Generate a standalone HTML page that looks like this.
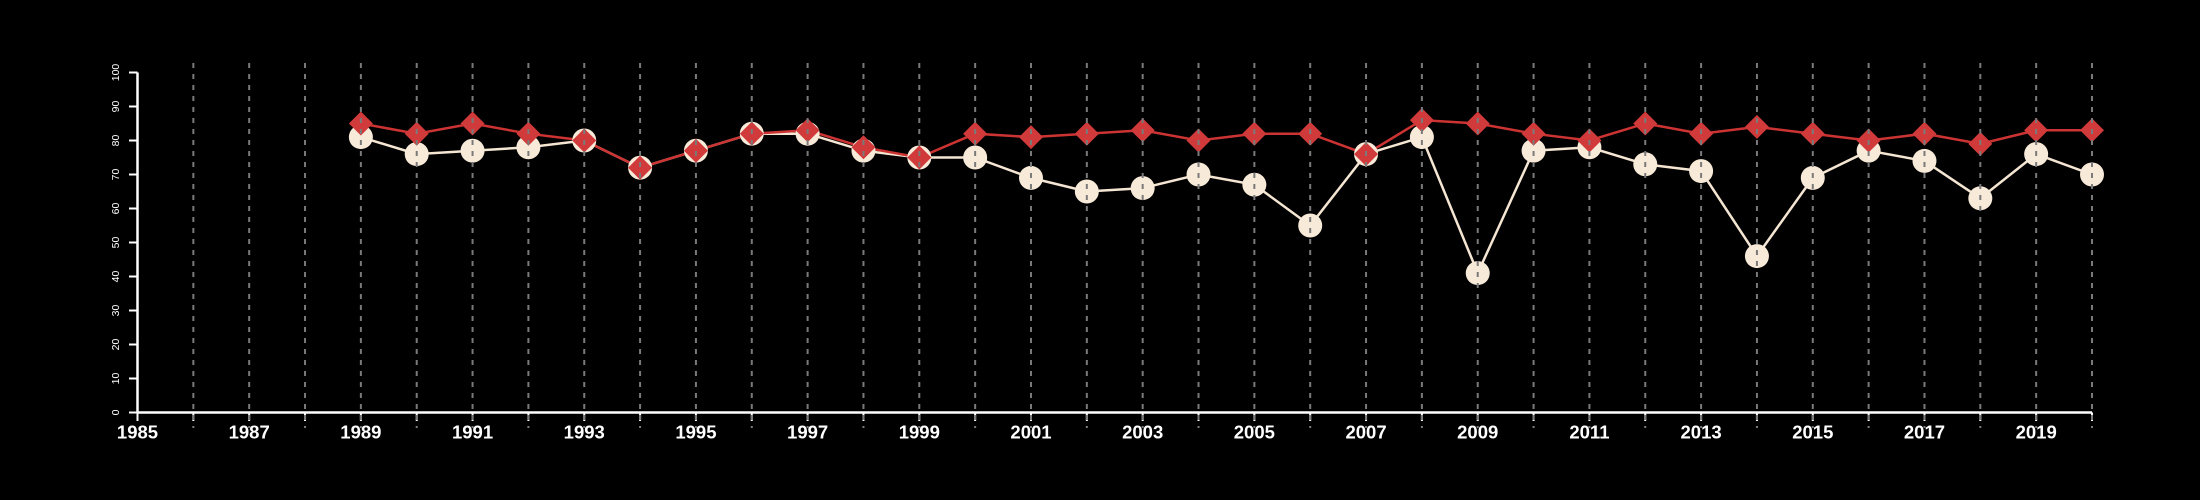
<!DOCTYPE html>
<html><head><meta charset="utf-8"><style>
html,body{margin:0;padding:0;background:#000;}
svg{display:block;font-family:"Liberation Sans",Arial,sans-serif;}
</style></head><body>
<svg id="chart" width="2200" height="500" viewBox="0 0 2200 500">
<rect x="0" y="0" width="2200" height="500" fill="#000"/>
<g id="grid"></g>
<g id="series"></g>
<g id="axes"></g>
</svg>
<script>
const years = [1989,1990,1991,1992,1993,1994,1995,1996,1997,1998,1999,2000,2001,2002,2003,2004,2005,2006,2007,2008,2009,2010,2011,2012,2013,2014,2015,2016,2017,2018,2019,2020];
const whiteValues = [81,76,77,78,80,72,77,82,82,77,75,75,69,65,66,70,67,55,76,81,41,77,78,73,71,46,69,77,74,63,76,70];
const redValues = [85,82,85,82,80,72,77,82,83,78,75,82,81,82,83,80,82,82,76,86,85,82,80,85,82,84,82,80,82,79,83,83];
const yTicks = [0,10,20,30,40,50,60,70,80,90,100];
const xLabels = [1985,1987,1989,1991,1993,1995,1997,1999,2001,2003,2005,2007,2009,2011,2013,2015,2017,2019];
const xMin = 1985, xMax = 2020, yMin = 0, yMax = 100;

const NS = "http://www.w3.org/2000/svg";
const X0 = 137.5, X1 = 2092, Y0 = 412.5, Y1 = 72.5;
function xs(v){ return X0 + (v - xMin) / (xMax - xMin) * (X1 - X0); }
function ys(v){ return Y0 - (v - yMin) / (yMax - yMin) * (Y0 - Y1); }
function mk(tag, attrs, parent){ const e = document.createElementNS(NS, tag); for (const k in attrs) e.setAttribute(k, attrs[k]); parent.appendChild(e); return e; }

const grid = document.getElementById('grid');
const series = document.getElementById('series');
const axes = document.getElementById('axes');

function pts(vals){ return vals.map((v,i)=>xs(years[i])+','+ys(v)).join(' '); }
const wl = mk('polyline', {points: pts(whiteValues), fill:'none', stroke:'#f5e6d3', 'stroke-width':2.5}, series);


const rl = mk('polyline', {points: pts(redValues), fill:'none', stroke:'#cc3333', 'stroke-width':2.5}, series);


whiteValues.forEach((v,i)=>{
  const c = mk('circle', {cx: xs(years[i]), cy: ys(v), r: 12, fill:'#f8ead8'}, series);
  
  
});
redValues.forEach((v,i)=>{
  const x = xs(years[i]), y = ys(v), d = 12;
  const p = mk('polygon', {points: `${x},${y-d} ${x+d},${y} ${x},${y+d} ${x-d},${y}`, fill:'#d13a3a'}, series);
  
  
});

for (let yr = xMin + 1; yr <= xMax; yr++) {
  const l = mk('line', {x1: xs(yr), x2: xs(yr), y1: 63, y2: 428, stroke:'#7a7a7a', 'stroke-width':2, 'stroke-dasharray':'5,6'}, grid);
  
  
}
series.parentNode.appendChild(grid);

const xa = mk('line', {x1: X0, x2: X1, y1: Y0, y2: Y0, stroke:'#fff', 'stroke-width':2.5}, axes);


const ya = mk('line', {x1: X0, x2: X0, y1: Y0, y2: Y1, stroke:'#fff', 'stroke-width':2.5}, axes);


for (let yr = xMin; yr <= xMax; yr++) {
  const t = mk('line', {x1: xs(yr), x2: xs(yr), y1: Y0, y2: 421, stroke:'#fff', 'stroke-width':2}, axes);
  
  
}
xLabels.forEach(v=>{
  const t = mk('text', {x: xs(v), y: 438.5, fill:'#fff', 'font-size':18.5, 'font-weight':'bold', 'text-anchor':'middle'}, axes);
  t.textContent = v;
  
  
});
yTicks.forEach(v=>{
  const t = mk('line', {x1: 129, x2: X0, y1: ys(v), y2: ys(v), stroke:'#fff', 'stroke-width':2}, axes);
  
  
  const lb = mk('text', {x: 0, y: 0, fill:'#fff', 'font-size':10.5, 'text-anchor':'middle', transform:`translate(119,${ys(v)}) rotate(-90)`}, axes);
  lb.textContent = v;
  
  
});
</script>
</body></html>
